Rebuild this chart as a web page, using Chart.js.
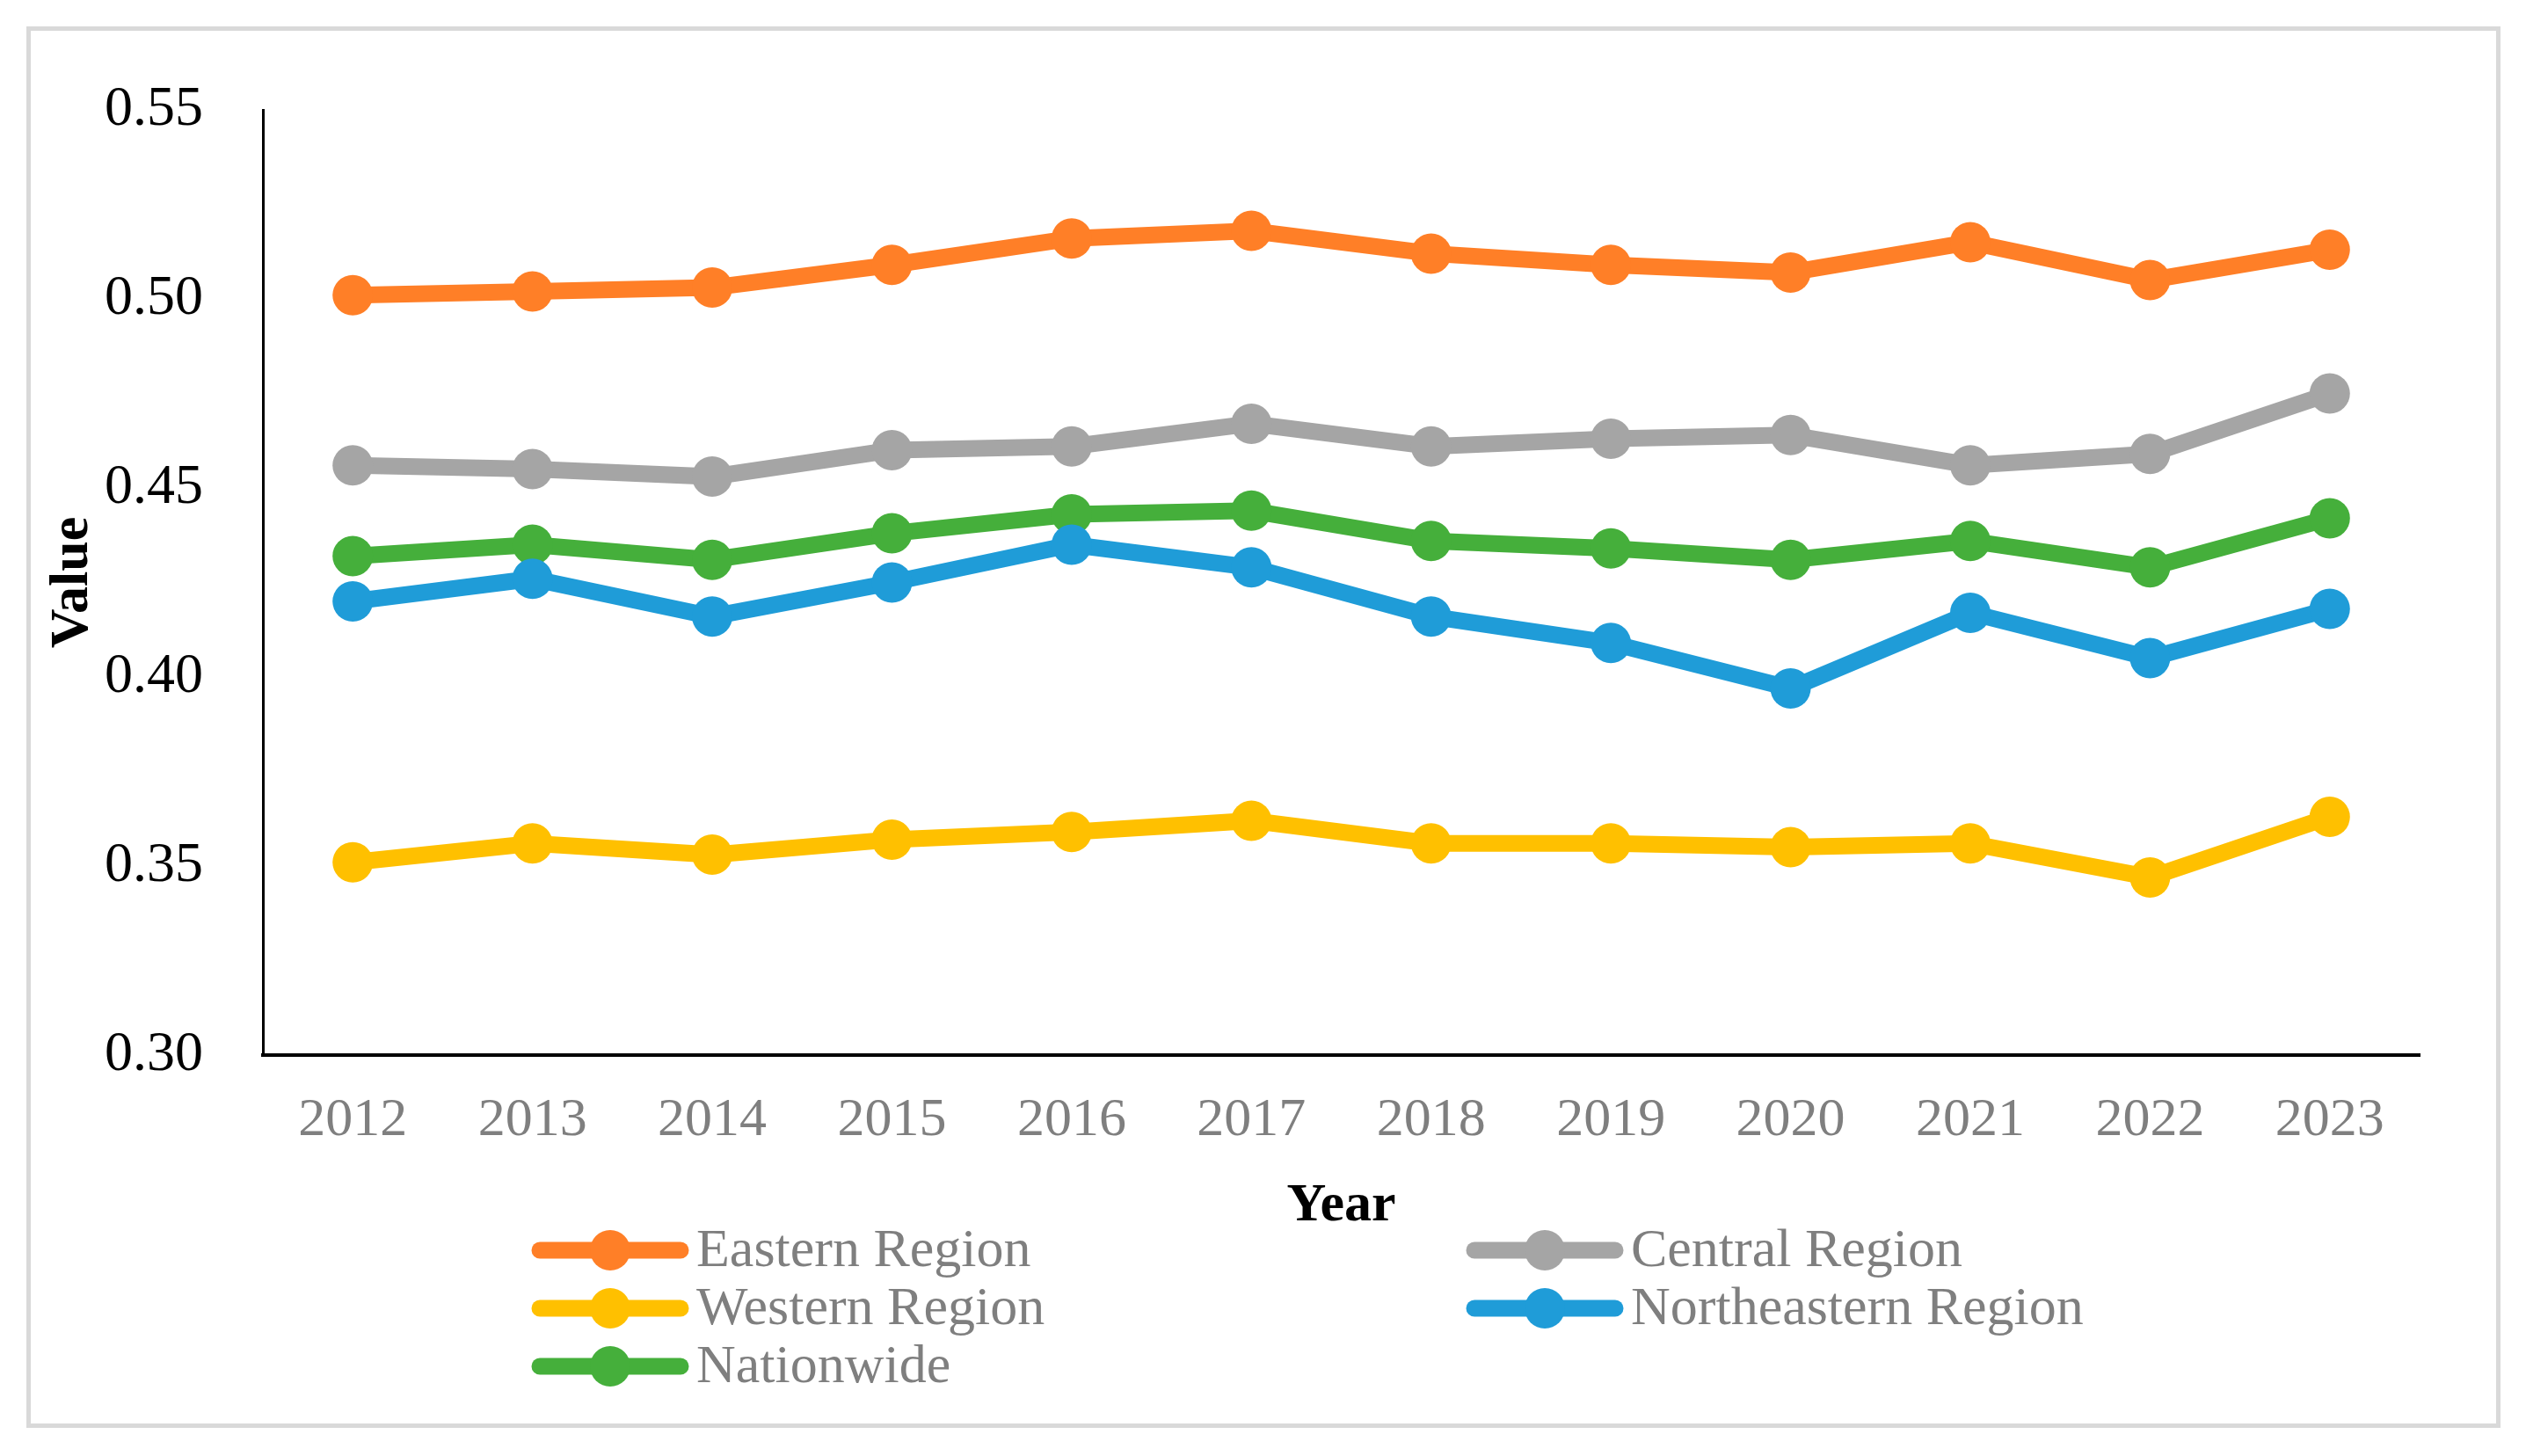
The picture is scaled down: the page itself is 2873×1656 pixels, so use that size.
<!DOCTYPE html>
<html lang="en">
  <head>
    <meta charset="UTF-8" />
    <title>Regional values 2012-2023</title>
    <script src="https://cdn.jsdelivr.net/npm/chart.js"></script>
    <style>
      body,
      html {
        margin: 0;
        padding: 0;
        background: #fff;
      }
      #wrap {
        position: relative;
        width: 2873px;
        height: 1656px;
      }
      #frame {
        position: absolute;
        left: 30px;
        top: 30px;
        width: 2804px;
        height: 1584px;
        border: 5px solid #d9d9d9;
      }
      #myChart {
        position: absolute;
        left: 0;
        top: 0;
      }
    </style>
  </head>
  <body>
    <div id="wrap">
      <div id="frame"></div>
      <canvas id="myChart" width="2873" height="1656"></canvas>
    </div>
    <script>
      const years = ["2012", "2013", "2014", "2015", "2016", "2017", "2018", "2019", "2020", "2021", "2022", "2023"];
      const eastern = [0.501, 0.502, 0.503, 0.509, 0.516, 0.518, 0.512, 0.509, 0.507, 0.515, 0.505, 0.513];
      const central = [0.456, 0.455, 0.453, 0.460, 0.461, 0.467, 0.461, 0.463, 0.464, 0.456, 0.459, 0.475];
      const western = [0.351, 0.356, 0.353, 0.357, 0.359, 0.362, 0.356, 0.356, 0.355, 0.356, 0.347, 0.363];
      const northeastern = [0.420, 0.426, 0.416, 0.425, 0.435, 0.429, 0.416, 0.409, 0.397, 0.417, 0.405, 0.418];
      const nationwide = [0.432, 0.435, 0.431, 0.438, 0.443, 0.444, 0.436, 0.434, 0.431, 0.436, 0.429, 0.442];
      const yTicks = [0.3, 0.35, 0.4, 0.45, 0.5, 0.55];

      const serif = "'Liberation Serif', 'DejaVu Serif', serif";

      function series(label, data, color) {
        return {
          label,
          data,
          borderColor: color,
          backgroundColor: color,
          borderWidth: 19,
          pointRadius: 23,
          pointHoverRadius: 23,
          pointBorderWidth: 0,
          pointBackgroundColor: color,
          tension: 0,
        };
      }

      // legend drawn by hand: two columns, line with a dot, grey text
      const sideLegend = {
        id: "sideLegend",
        afterDraw(chart) {
          const ctx = chart.ctx;
          const cols = [606, 1669];
          const rows = [1422, 1488, 1554];
          ctx.save();
          ctx.font = "62px " + serif;
          ctx.textBaseline = "middle";
          ctx.textAlign = "left";
          chart.data.datasets.forEach((ds, i) => {
            const x = cols[i % 2];
            const y = rows[Math.floor(i / 2)];
            ctx.strokeStyle = ds.borderColor;
            ctx.lineWidth = 19;
            ctx.lineCap = "round";
            ctx.beginPath();
            ctx.moveTo(x + 8, y);
            ctx.lineTo(x + 168, y);
            ctx.stroke();
            ctx.fillStyle = ds.borderColor;
            ctx.beginPath();
            ctx.arc(x + 88, y, 23, 0, Math.PI * 2);
            ctx.fill();
            ctx.fillStyle = "#7f7f7f";
            ctx.fillText(ds.label, x + 186, y + 2);
          });
          ctx.restore();
        },
      };

      const ctx = document.getElementById("myChart").getContext("2d");
      new Chart(ctx, {
        type: "line",
        data: {
          labels: years,
          datasets: [
            series("Eastern Region", eastern, "#FF7F27"),
            series("Central Region", central, "#A5A5A5"),
            series("Western Region", western, "#FFC000"),
            series("Northeastern Region", northeastern, "#1F9CD8"),
            series("Nationwide", nationwide, "#45AF3B"),
          ],
        },
        options: {
          responsive: false,
          animation: false,
          devicePixelRatio: 1,
          layout: {
            padding: { left: 0, top: 125, right: 121, bottom: 236 },
          },
          plugins: {
            legend: { display: false },
            tooltip: { enabled: false },
          },
          scales: {
            x: {
              offset: true,
              grid: { display: false, drawTicks: false },
              border: { display: true, color: "#000", width: 4 },
              ticks: {
                color: "#7f7f7f",
                font: { family: serif, size: 62 },
                padding: 38,
                maxRotation: 0,
              },
              title: {
                display: true,
                text: "Year",
                color: "#000",
                font: { family: serif, size: 62, weight: "bold" },
                padding: { top: 0, bottom: 11 },
              },
              afterFit(scale) {
                scale.height = 220;
              },
            },
            y: {
              min: 0.3,
              max: 0.55,
              afterBuildTicks(scale) {
                scale.ticks = yTicks.map((v) => ({ value: v }));
              },
              grid: { display: false, drawTicks: false },
              border: { display: true, color: "#000", width: 3 },
              ticks: {
                color: "#000",
                font: { family: serif, size: 64 },
                padding: 68,
                callback: (v) => Number(v).toFixed(2),
              },
              title: {
                display: true,
                text: "Value",
                color: "#000",
                font: { family: serif, size: 62, weight: "bold" },
                padding: { top: 46, bottom: 0 },
              },
              afterFit(scale) {
                scale.width = 299;
              },
            },
          },
        },
        plugins: [sideLegend],
      });
    </script>
  </body>
</html>
